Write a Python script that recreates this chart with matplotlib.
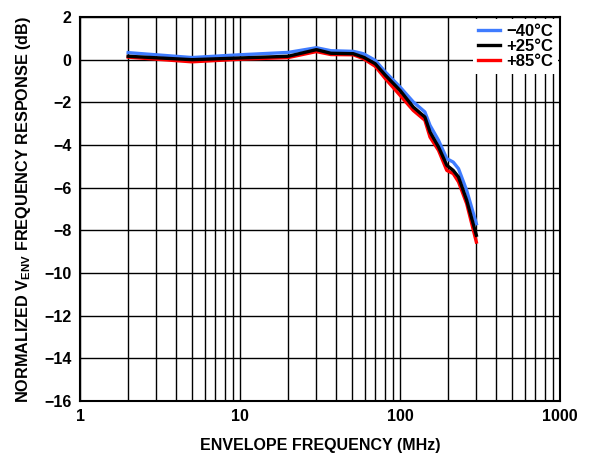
import matplotlib
matplotlib.use("Agg")
import matplotlib.pyplot as plt
from matplotlib.ticker import FixedLocator, LogLocator, NullFormatter

plt.rcParams['font.family'] = ['Liberation Sans', 'DejaVu Sans']
plt.rcParams['font.weight'] = 'bold'
plt.rcParams['mathtext.fontset'] = 'custom'
plt.rcParams['mathtext.rm'] = 'Liberation Sans:bold'
plt.rcParams['mathtext.bf'] = 'Liberation Sans:bold'

# envelope frequency (MHz) and normalized response (dB) for each temperature
freq = [2, 5, 10, 20, 30, 37, 51, 59, 70, 81, 100, 121, 143, 154, 174, 196, 215, 232, 261, 300]
resp_m40 = [0.33, 0.10, 0.23, 0.34, 0.56, 0.42, 0.39, 0.28, -0.03, -0.58, -1.28, -1.98, -2.45,
            -3.08, -3.78, -4.64, -4.80, -5.11, -6.13, -7.69]
resp_p25 = [0.16, 0.00, 0.08, 0.16, 0.47, 0.30, 0.28, 0.12, -0.19, -0.73, -1.44, -2.22, -2.69,
            -3.39, -4.09, -4.95, -5.19, -5.50, -6.59, -8.23]
resp_p85 = [0.12, -0.10, 0.02, 0.10, 0.38, 0.24, 0.23, 0.05, -0.31, -0.89, -1.67, -2.38, -2.84,
            -3.63, -4.25, -5.19, -5.34, -5.73, -6.75, -8.55]

x_ticks = [1, 10, 100, 1000]
y_ticks = list(range(-16, 3, 2))

fig = plt.figure(figsize=(5.94, 4.55), dpi=100)
ax = fig.add_axes([0.1347, 0.1187, 0.8081, 0.8439])

ax.plot(freq, resp_m40, color='#3f7cff', lw=2.4, label='\u221240\u00b0C', zorder=3)
ax.plot(freq, resp_p25, color='black', lw=2.4, label='+25\u00b0C', zorder=4)
ax.plot(freq, resp_p85, color='#ff0000', lw=2.4, label='+85\u00b0C', zorder=2)

ax.set_xscale('log')
ax.set_xlim(1, 1000)
ax.set_ylim(-16, 2)
ax.xaxis.set_major_locator(FixedLocator(x_ticks))
ax.xaxis.set_minor_locator(LogLocator(base=10, subs=range(2, 10)))
ax.xaxis.set_minor_formatter(NullFormatter())
ax.set_xticklabels([str(t) for t in x_ticks])
ax.yaxis.set_major_locator(FixedLocator(y_ticks))
ax.set_yticklabels([str(t).replace('-', '\u2212') for t in y_ticks])

ax.grid(True, which='both', axis='x', color='black', lw=1.0)
ax.grid(True, which='major', axis='y', color='black', lw=1.0)
ax.set_axisbelow(True)
ax.tick_params(which='both', length=0, labelsize=11.5, pad=6)
for s in ax.spines.values():
    s.set_linewidth(1.5)

ax.set_xlabel('ENVELOPE FREQUENCY (MHz)', fontsize=11.5, fontweight='bold', labelpad=10)
ax.set_ylabel(r'NORMALIZED V$_{\mathbf{ENV}}$ FREQUENCY RESPONSE (dB)', fontsize=11.7,
              fontweight='bold', labelpad=8)

leg = ax.legend(loc='upper right', frameon=True, fancybox=False, edgecolor='none',
                framealpha=1, handlelength=1.3, handletextpad=0.4, borderaxespad=0.1,
                labelspacing=0.0, borderpad=0.3, prop={'size': 12, 'weight': 'bold'})

fig.savefig('out.png', dpi=100)
